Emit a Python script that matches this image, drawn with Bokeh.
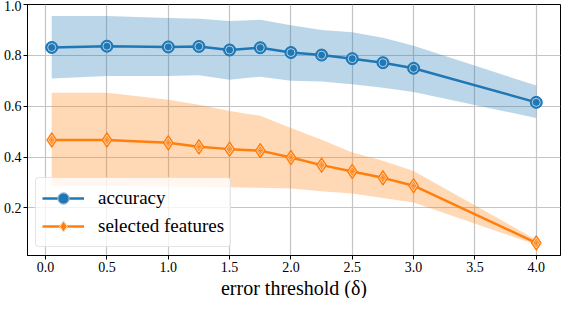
from bokeh.plotting import figure
from bokeh.models import Range1d, FixedTicker, Legend, LegendItem, ColumnDataSource, Title
from bokeh.embed import file_html
from bokeh.resources import INLINE

# data
x = [0.05, 0.5, 1.0, 1.25, 1.5, 1.75, 2.0, 2.25, 2.5, 2.75, 3.0, 4.0]
acc = [0.831, 0.836, 0.833, 0.835, 0.821, 0.830, 0.811, 0.801, 0.787, 0.771, 0.749, 0.615]
acc_hi = [0.955, 0.955, 0.947, 0.944, 0.935, 0.940, 0.918, 0.900, 0.891, 0.869, 0.838, 0.681]
acc_lo = [0.709, 0.719, 0.719, 0.722, 0.704, 0.716, 0.700, 0.697, 0.686, 0.672, 0.656, 0.553]
sel = [0.467, 0.467, 0.456, 0.440, 0.431, 0.425, 0.398, 0.368, 0.343, 0.318, 0.287, 0.062]
sel_hi = [0.653, 0.653, 0.625, 0.606, 0.581, 0.562, 0.514, 0.468, 0.418, 0.385, 0.345, 0.074]
sel_lo = [0.287, 0.287, 0.284, 0.282, 0.281, 0.279, 0.276, 0.265, 0.256, 0.239, 0.221, 0.055]
x_ticks = [0.0, 0.5, 1.0, 1.5, 2.0, 2.5, 3.0, 3.5, 4.0]
y_ticks = [0.2, 0.4, 0.6, 0.8, 1.0]
x_label = "error threshold (δ)"

BLUE = "#1f77b4"
ORANGE = "#ff7f0e"
FONT = "Liberation Serif"

src = ColumnDataSource(dict(x=x, acc=acc, acc_hi=acc_hi, acc_lo=acc_lo,
                            sel=sel, sel_hi=sel_hi, sel_lo=sel_lo))

p = figure(width=562, height=298, output_backend="svg", toolbar_location=None,
           x_range=Range1d(-0.1475, 4.1975), y_range=Range1d(0.0125, 1.0),
           min_border_left=2, min_border_right=2, min_border_top=4,
           min_border_bottom=0)

p.background_fill_color = "white"
p.border_fill_color = "white"
p.outline_line_color = "black"
p.outline_line_width = 1
p.outline_line_alpha = 1

p.varea(x="x", y1="acc_lo", y2="acc_hi", source=src, fill_color=BLUE, fill_alpha=0.3)
p.varea(x="x", y1="sel_lo", y2="sel_hi", source=src, fill_color=ORANGE, fill_alpha=0.3)

l1 = p.line(x="x", y="acc", source=src, line_color=BLUE, line_width=2.5)
m1 = p.scatter(x="x", y="acc", source=src, marker="circle", size=12,
               fill_color=BLUE, line_color=BLUE, line_width=1)
r1 = p.scatter(x="x", y="acc", source=src, marker="circle", size=8,
               fill_color=None, line_color="white", line_width=0.8, line_alpha=0.8)

l2 = p.line(x="x", y="sel", source=src, line_color=ORANGE, line_width=2.5)
m2 = p.scatter(x="x", y="sel", source=src, marker="diamond", size=15,
               fill_color=ORANGE, line_color=ORANGE, line_width=1)
r2 = p.scatter(x="x", y="sel", source=src, marker="diamond", size=10,
               fill_color=None, line_color="white", line_width=0.8, line_alpha=0.8)
r3 = p.scatter(x="x", y="sel", source=src, marker="diamond", size=5,
               fill_color=None, line_color="white", line_width=0.6, line_alpha=0.6)

# axes
p.xaxis.ticker = FixedTicker(ticks=x_ticks)
p.yaxis.ticker = FixedTicker(ticks=y_ticks)
p.xaxis.major_label_overrides = {t: f"{t:.1f}" for t in x_ticks}
p.yaxis.major_label_overrides = {t: f"{t:.1f}" for t in y_ticks}
for ax in (p.xaxis[0], p.yaxis[0]):
    ax.axis_line_color = "black"
    ax.axis_line_width = 1
    ax.major_tick_line_color = "black"
    ax.major_tick_out = 4
    ax.major_tick_in = 0
    ax.minor_tick_line_color = None
    ax.major_label_text_font = FONT
    ax.major_label_text_font_size = "14px"
    ax.major_label_text_color = "black"
    ax.major_label_standoff = 2

# x-axis title as a title below the axis
t = Title(text=x_label, align="center", text_font=FONT, text_font_size="20px",
          text_font_style="normal", text_color="black", standoff=0)
p.add_layout(t, "below")

p.grid.grid_line_color = "#c4c4c4"
p.grid.grid_line_width = 1.2

legend = Legend(items=[
    LegendItem(label="accuracy", renderers=[l1, m1, r1]),
    LegendItem(label="selected features", renderers=[l2, m2, r2, r3]),
], location=(8, 8))
legend.label_text_font = FONT
legend.label_text_font_size = "19px"
legend.label_text_color = "black"
legend.glyph_width = 42
legend.glyph_height = 28
legend.label_standoff = 14
legend.spacing = 0
legend.padding = 6
legend.margin = 0
legend.border_line_color = "#cccccc"
legend.border_line_width = 1
legend.background_fill_alpha = 0.8
try:
    legend.border_radius = 4
except Exception:
    pass
p.add_layout(legend, "center")

open("out.html", "w").write(file_html(p, INLINE))
